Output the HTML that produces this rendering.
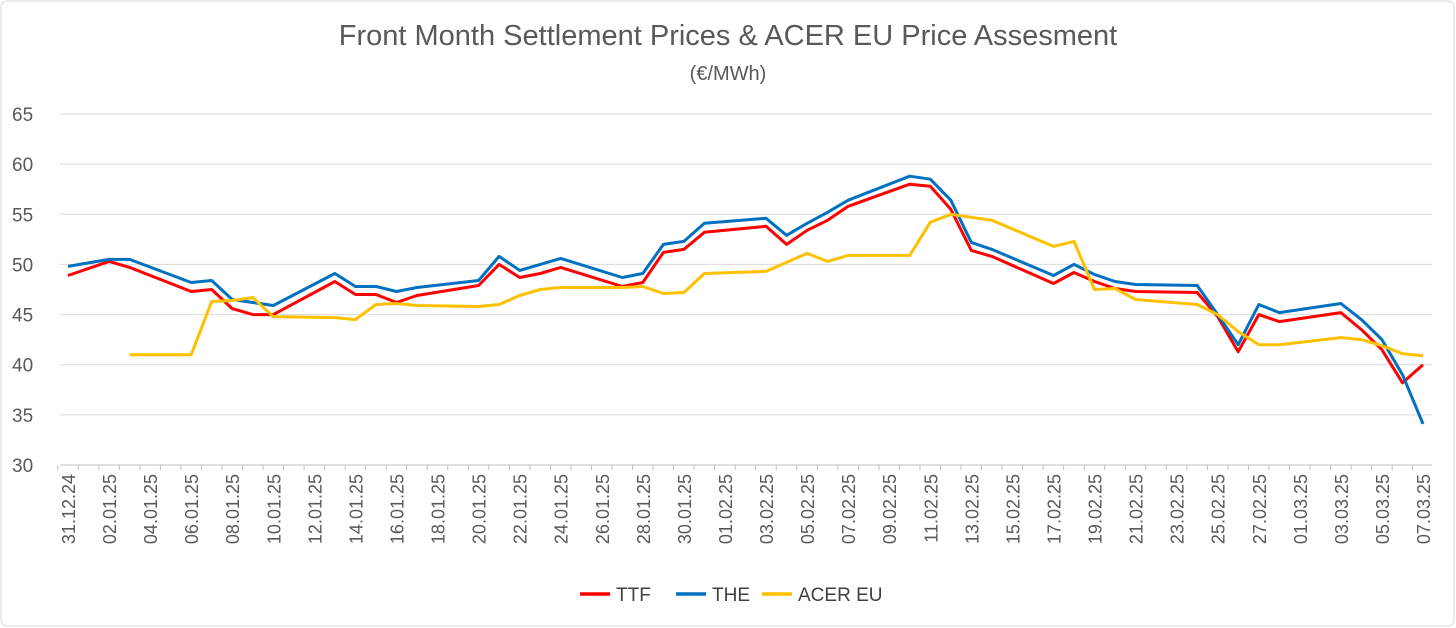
<!DOCTYPE html>
<html><head><meta charset="utf-8"><style>
body{margin:0;background:#fff;}
svg{display:block;font-family:"Liberation Sans",sans-serif;}
</style></head><body>
<svg id="chart" width="1456" height="628" viewBox="0 0 1456 628">
<rect x="1" y="1" width="1453" height="625" rx="6" fill="#fff" stroke="#d9d9d9"/>
<text x="728" y="45" text-anchor="middle" font-size="29" fill="#595959">Front Month Settlement Prices &amp; ACER EU Price Assesment</text>
<text x="728" y="80" text-anchor="middle" font-size="20" fill="#595959">(€/MWh)</text>
<g id="grid"></g><g id="xlabels"></g><g id="series"></g>
<g>
<line x1="580" y1="594" x2="610" y2="594" stroke="#ff0000" stroke-width="3.5"/>
<text x="616" y="601" font-size="19" fill="#404040">TTF</text>
<line x1="676" y1="594" x2="706" y2="594" stroke="#0070c0" stroke-width="3.5"/>
<text x="712" y="601" font-size="19" fill="#404040">THE</text>
<line x1="762" y1="594" x2="792" y2="594" stroke="#ffc000" stroke-width="3.5"/>
<text x="798" y="601" font-size="19" fill="#404040">ACER EU</text>
</g>
</svg>
<script>
const yTicks=[30,35,40,45,50,55,60,65];
const dayIdx=[0,2,3,6,7,8,9,10,13,14,15,16,17,20,21,22,23,24,27,28,29,30,31,34,35,36,37,38,41,42,43,44,45,48,49,50,51,52,55,56,57,58,59,62,63,64,65,66];
const ttf=[48.9,50.3,49.7,47.3,47.5,45.6,45.0,45.0,48.3,47.0,47.0,46.2,46.9,47.9,50.0,48.7,49.1,49.7,47.8,48.2,51.2,51.5,53.2,53.8,52.0,53.4,54.4,55.8,58.0,57.8,55.5,51.4,50.8,48.1,49.2,48.3,47.6,47.3,47.2,44.8,41.3,45.0,44.3,45.2,43.5,41.5,38.2,40.0];
const the=[49.8,50.5,50.5,48.2,48.4,46.5,46.2,45.9,49.1,47.8,47.8,47.3,47.7,48.4,50.8,49.4,50.0,50.6,48.7,49.1,52.0,52.3,54.1,54.6,52.9,54.1,55.2,56.4,58.8,58.5,56.4,52.2,51.5,48.9,50.0,49.0,48.3,48.0,47.9,45.0,42.0,46.0,45.2,46.1,44.5,42.5,39.0,34.1];
const acer=[null,null,41.0,41.0,46.3,46.4,46.7,44.8,44.7,44.5,46.0,46.1,45.9,45.8,46.0,46.9,47.5,47.7,47.7,47.8,47.1,47.2,49.1,49.3,50.2,51.1,50.3,50.9,50.9,54.2,55.0,54.7,54.4,51.8,52.3,47.5,47.6,46.5,46.0,45.0,43.3,42.0,42.0,42.7,42.5,41.9,41.1,40.9];
const NS="http://www.w3.org/2000/svg";
const X=d=>68+d*(1355/66), Y=v=>465-(v-30)*(351/35);
const grid=document.getElementById('grid');
yTicks.forEach(t=>{
 const l=document.createElementNS(NS,'line');
 
 
 l.setAttribute('x1',60);l.setAttribute('x2',1432);l.setAttribute('y1',Y(t));l.setAttribute('y2',Y(t));
 l.setAttribute('stroke',t===30?'#bfbfbf':'#d9d9d9');grid.appendChild(l);
 const tx=document.createElementNS(NS,'text');
 
 
 tx.setAttribute('x',12);tx.setAttribute('y',Y(t)+7);tx.setAttribute('font-size','19');tx.setAttribute('fill','#595959');
 tx.textContent=t;grid.appendChild(tx);
});
const xl=document.getElementById('xlabels');
const start=new Date(Date.UTC(2024,11,31));
for(let d=0;d<=66;d++){
 const tk=document.createElementNS(NS,'line');
 
 
 const xb=X(d)-10.3;
 tk.setAttribute('x1',xb);tk.setAttribute('x2',xb);tk.setAttribute('y1',465);tk.setAttribute('y2',470);tk.setAttribute('stroke','#bfbfbf');xl.appendChild(tk);
 if(d%2) continue;
 const dt=new Date(start.getTime()+d*86400000);
 const s=String(dt.getUTCDate()).padStart(2,'0')+'.'+String(dt.getUTCMonth()+1).padStart(2,'0')+'.'+String(dt.getUTCFullYear()).slice(2);
 const t=document.createElementNS(NS,'text');
 
 
 t.setAttribute('transform','translate('+(X(d)+7)+',474) rotate(-90)');
 t.setAttribute('text-anchor','end');t.setAttribute('font-size','18');t.setAttribute('fill','#595959');
 t.textContent=s;xl.appendChild(t);
}
const ser=document.getElementById('series');
[[ttf,'#ff0000','ttf-line'],[the,'#0070c0','the-line'],[acer,'#ffc000','acer-line']].forEach(([arr,c,n])=>{
 let pts=[];arr.forEach((v,i)=>{if(v!=null)pts.push(X(dayIdx[i]).toFixed(1)+','+Y(v).toFixed(1));});
 const p=document.createElementNS(NS,'polyline');
 
 
 p.setAttribute('points',pts.join(' '));p.setAttribute('fill','none');p.setAttribute('stroke',c);
 p.setAttribute('stroke-width','3');p.setAttribute('stroke-linejoin','round');ser.appendChild(p);
});
</script>
</body></html>
